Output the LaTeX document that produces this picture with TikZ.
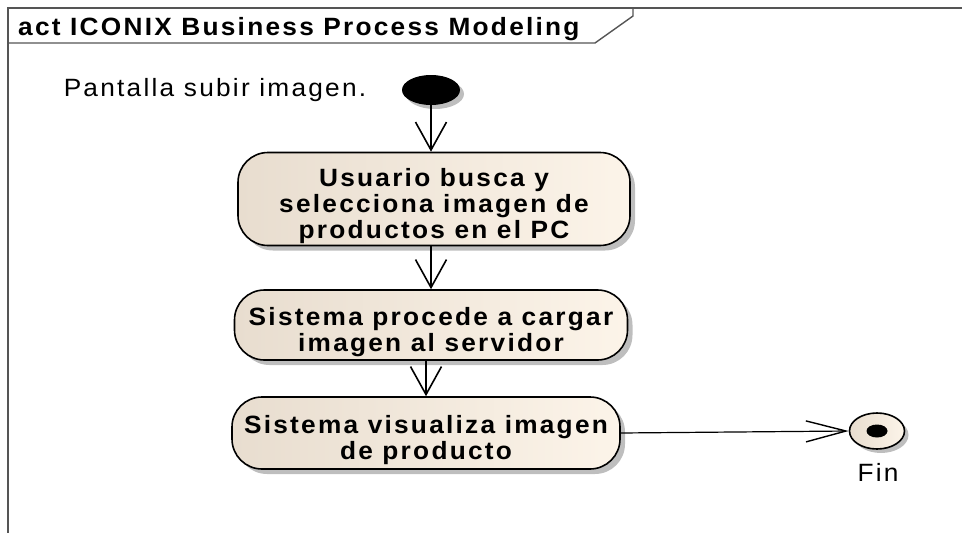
\documentclass[tikz,border=0pt]{standalone}
\usepackage{fontspec}
\setmainfont{Liberation Sans}
\newfontfamily\eafont[FakeStretch=1.05,LetterSpace=9]{Liberation Sans}
\usetikzlibrary{arrows.meta,shadows,shapes.geometric}
\definecolor{ActLeft}{HTML}{E8DDCF}
\definecolor{ActRight}{HTML}{FCF4E9}
\definecolor{FrameGray}{HTML}{555555}
\definecolor{ShadowGray}{HTML}{BEBEBE}
\newcommand{\actdrop}{\rule{0pt}{32pt}}
\tikzset{
  actnode/.style={
    draw=black,line width=1.6pt,rounded corners=30pt,
    left color=ActLeft,right color=ActRight,
    drop shadow={shadow xshift=5pt,shadow yshift=-5pt,fill=ShadowGray,opacity=1},
    font=\eafont\fontsize{25}{26}\selectfont\bfseries,
    align=center,inner sep=0pt
  },
  startnode/.style={
    ellipse,fill=black,minimum width=58pt,minimum height=30pt,inner sep=0pt,
    drop shadow={shadow xshift=4pt,shadow yshift=-4pt,fill=ShadowGray,opacity=1}
  },
  endnode/.style={
    ellipse,draw=black,line width=1.6pt,minimum width=55pt,minimum height=36pt,inner sep=0pt,
    left color=ActLeft,right color=ActRight,
    drop shadow={shadow xshift=4pt,shadow yshift=-4pt,fill=ShadowGray,opacity=1}
  },
  plaintext/.style={font=\eafont\fontsize{25}{26}\selectfont,inner sep=0pt,anchor=base},
  flow/.style={draw=black,line width=1.6pt,-{Straight Barb[length=28pt,width=31pt,line width=1.6pt]}},
  hflow/.style={draw=black,line width=1.2pt,-{Straight Barb[length=40pt,width=21pt,line width=1.4pt]}},
  frameline/.style={draw=FrameGray,line width=1.4pt},
}
\begin{document}
\begin{tikzpicture}[x=1pt,y=-1pt]
  \useasboundingbox (0,0) rectangle (962,533);
  \draw[frameline] (8,533) -- (8,8) -- (962,8);
  \draw[frameline] (8,43) -- (595,43) -- (633,16) -- (633,8);
  \node[font=\eafont\fontsize{25}{26}\selectfont\bfseries,anchor=base west,inner sep=0pt] (title) at (18,35) {act ICONIX Business Process Modeling};
  \node[plaintext] (lbl) at (215,96) {Pantalla subir imagen.};
  \node[startnode] (start) at (431,90) {};
  \node[actnode,minimum width=392pt,minimum height=93pt] (busca) at (434,199) {\actdrop Usuario busca y\\selecciona imagen de\\productos en el PC};
  \node[actnode,minimum width=393pt,minimum height=70pt] (carga) at (431,325) {\actdrop Sistema procede a cargar\\imagen al servidor};
  \node[actnode,minimum width=388pt,minimum height=72pt] (visual) at (426,433) {\actdrop Sistema visualiza imagen\\de producto};
  \node[endnode] (fin) at (877,431) {};
  \node[ellipse,fill=black,minimum width=21pt,minimum height=13pt,inner sep=0pt] (findot) at (fin.center) {};
  \node[plaintext] (finlbl) at (878,481) {Fin};
  \draw[flow] (start.south) -- (start.south |- busca.north);
  \draw[flow] (busca.south -| carga.north) -- (carga.north);
  \draw[flow] (carga.south -| visual.north) -- (visual.north);
  \draw[hflow] (visual.east) -- (fin.west);
\end{tikzpicture}
\end{document}
